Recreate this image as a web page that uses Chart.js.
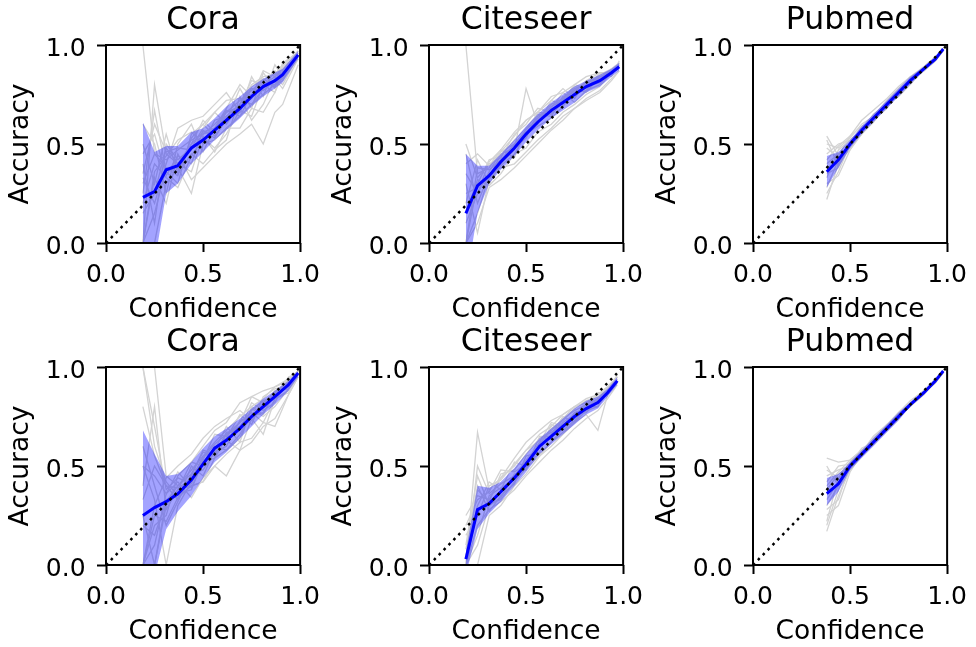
<!DOCTYPE html>
<html><head><meta charset="utf-8">
<script src="https://cdn.jsdelivr.net/npm/chart.js@4.4.0/dist/chart.umd.min.js"></script>
<style>
html,body{margin:0;padding:0;background:#fff;width:976px;height:647px;overflow:hidden;position:relative;}
canvas{position:absolute;}
</style></head><body>
<canvas id="p0" width="328" height="327" style="left:0px;top:0px"></canvas>
<canvas id="p1" width="328" height="327" style="left:323px;top:0px"></canvas>
<canvas id="p2" width="328" height="327" style="left:647px;top:0px"></canvas>
<canvas id="p3" width="328" height="327" style="left:0px;top:322px"></canvas>
<canvas id="p4" width="328" height="327" style="left:323px;top:322px"></canvas>
<canvas id="p5" width="328" height="327" style="left:647px;top:322px"></canvas>
<script>
// ---------- labels ----------
const panelTitles = ['Cora', 'Citeseer', 'Pubmed', 'Cora', 'Citeseer', 'Pubmed'];
const xLabel = 'Confidence';
const yLabel = 'Accuracy';
const tickValues = [0, 0.5, 1.0];
const diagonal = [0, 1];

// ---------- top row: Cora ----------
const coraTopX     = [0.19, 0.25, 0.31, 0.37, 0.44, 0.50, 0.56, 0.62, 0.69, 0.75, 0.81, 0.87, 0.91, 0.99];
const coraTopMean  = [0.23, 0.26, 0.37, 0.39, 0.48, 0.52, 0.57, 0.62, 0.68, 0.74, 0.79, 0.82, 0.85, 0.95];
const coraTopUpper = [0.61, 0.46, 0.49, 0.49, 0.56, 0.58, 0.63, 0.69, 0.74, 0.79, 0.83, 0.86, 0.88, 0.97];
const coraTopLower = [-0.2, -0.1, 0.25, 0.30, 0.40, 0.46, 0.52, 0.57, 0.63, 0.69, 0.74, 0.78, 0.81, 0.93];
const coraTopRuns = [
  [1.00, 0.45, 0.42, 0.47, 0.52, 0.55, 0.60, 0.66, 0.72, 0.77, 0.82, 0.86, 0.88, 0.96],
  [0.00, 0.80, 0.45, 0.40, 0.50, 0.56, 0.58, 0.64, 0.70, 0.80, 0.84, 0.85, 0.90, 0.97],
  [0.50, 0.30, 0.55, 0.35, 0.45, 0.40, 0.47, 0.52, 0.74, 0.62, 0.70, 0.83, 0.78, 0.93],
  [0.00, 0.00, 0.30, 0.38, 0.25, 0.50, 0.52, 0.58, 0.64, 0.70, 0.75, 0.80, 0.83, 0.94],
  [0.33, 0.20, 0.40, 0.58, 0.62, 0.64, 0.70, 0.76, 0.66, 0.84, 0.74, 0.90, 0.84, 0.96],
  [0.25, 0.67, 0.36, 0.30, 0.55, 0.60, 0.54, 0.62, 0.78, 0.68, 0.86, 0.78, 0.90, 0.93],
  [0.00, 0.33, 0.20, 0.45, 0.32, 0.38, 0.44, 0.50, 0.55, 0.60, 0.50, 0.66, 0.70, 0.90],
  [0.40, 0.10, 0.50, 0.42, 0.48, 0.58, 0.66, 0.60, 0.70, 0.82, 0.80, 0.76, 0.87, 0.97],
  [0.60, 0.50, 0.25, 0.50, 0.60, 0.46, 0.58, 0.68, 0.80, 0.74, 0.87, 0.84, 0.80, 0.94],
  [0.20, 0.40, 0.33, 0.28, 0.44, 0.53, 0.48, 0.55, 0.67, 0.64, 0.80, 0.80, 0.82, 0.95],
  [0.00, 0.36, 0.44, 0.52, 0.56, 0.50, 0.62, 0.64, 0.70, 0.78, 0.77, 0.82, 0.86, 0.96],
  [0.30, 0.45, 0.38, 0.36, 0.50, 0.62, 0.56, 0.66, 0.69, 0.73, 0.80, 0.84, 0.88, 0.95],
  [0.15, 0.25, 0.48, 0.40, 0.36, 0.54, 0.46, 0.58, 0.58, 0.68, 0.66, 0.76, 0.85, 0.94],
  [0.45, 0.55, 0.34, 0.44, 0.40, 0.57, 0.53, 0.63, 0.66, 0.79, 0.83, 0.79, 0.89, 0.97],
  [0.00, 0.15, 0.38, 0.34, 0.53, 0.60, 0.66, 0.72, 0.73, 0.70, 0.78, 0.87, 0.83, 0.93],
  [0.35, 0.60, 0.46, 0.48, 0.47, 0.55, 0.57, 0.67, 0.64, 0.75, 0.81, 0.81, 0.91, 0.96]
];

// ---------- top row: Citeseer ----------
const citeTopX     = [0.19, 0.25, 0.31, 0.37, 0.44, 0.50, 0.56, 0.63, 0.69, 0.75, 0.81, 0.88, 0.94, 0.98];
const citeTopMean  = [0.15, 0.29, 0.34, 0.41, 0.48, 0.55, 0.61, 0.67, 0.71, 0.75, 0.79, 0.82, 0.86, 0.89];
const citeTopUpper = [0.45, 0.39, 0.39, 0.45, 0.52, 0.59, 0.65, 0.71, 0.75, 0.79, 0.82, 0.85, 0.88, 0.91];
const citeTopLower = [-0.2, 0.15, 0.30, 0.37, 0.44, 0.51, 0.57, 0.63, 0.67, 0.71, 0.76, 0.79, 0.84, 0.87];
const citeTopRuns = [
  [1.00, 0.35, 0.38, 0.46, 0.50, 0.57, 0.63, 0.70, 0.73, 0.78, 0.80, 0.85, 0.87, 0.90],
  [0.50, 0.33, 0.40, 0.43, 0.55, 0.60, 0.68, 0.66, 0.74, 0.76, 0.82, 0.83, 0.88, 0.91],
  [0.00, 0.10, 0.28, 0.32, 0.38, 0.44, 0.50, 0.57, 0.62, 0.68, 0.73, 0.77, 0.83, 0.87],
  [0.20, 0.42, 0.30, 0.40, 0.47, 0.78, 0.60, 0.72, 0.70, 0.78, 0.76, 0.84, 0.86, 0.89],
  [0.10, 0.25, 0.36, 0.46, 0.54, 0.62, 0.66, 0.74, 0.76, 0.80, 0.84, 0.86, 0.86, 0.90],
  [0.30, 0.05, 0.32, 0.40, 0.49, 0.54, 0.64, 0.68, 0.76, 0.71, 0.77, 0.80, 0.87, 0.88],
  [0.00, 0.30, 0.42, 0.44, 0.52, 0.58, 0.62, 0.66, 0.72, 0.80, 0.78, 0.86, 0.84, 0.92],
  [0.45, 0.20, 0.35, 0.38, 0.40, 0.46, 0.52, 0.58, 0.64, 0.68, 0.72, 0.76, 0.82, 0.87],
  [0.00, 0.38, 0.37, 0.42, 0.50, 0.56, 0.62, 0.69, 0.72, 0.77, 0.81, 0.84, 0.86, 0.90],
  [0.25, 0.28, 0.33, 0.45, 0.48, 0.53, 0.66, 0.65, 0.71, 0.75, 0.79, 0.81, 0.87, 0.89],
  [0.40, 0.45, 0.39, 0.47, 0.56, 0.62, 0.66, 0.72, 0.78, 0.73, 0.82, 0.86, 0.85, 0.91],
  [0.00, 0.15, 0.34, 0.39, 0.45, 0.55, 0.59, 0.63, 0.69, 0.76, 0.77, 0.85, 0.88, 0.89],
  [0.15, 0.32, 0.29, 0.35, 0.45, 0.48, 0.56, 0.60, 0.66, 0.70, 0.75, 0.79, 0.86, 0.90],
  [0.35, 0.25, 0.41, 0.47, 0.43, 0.58, 0.65, 0.64, 0.73, 0.79, 0.78, 0.82, 0.87, 0.91]
];

// ---------- top row: Pubmed ----------
const pubTopX     = [0.38, 0.44, 0.50, 0.56, 0.62, 0.69, 0.75, 0.81, 0.88, 0.94, 0.98];
const pubTopMean  = [0.36, 0.42, 0.50, 0.57, 0.63, 0.70, 0.76, 0.82, 0.88, 0.93, 0.98];
const pubTopUpper = [0.44, 0.46, 0.52, 0.59, 0.65, 0.72, 0.78, 0.84, 0.89, 0.94, 0.985];
const pubTopLower = [0.28, 0.38, 0.48, 0.55, 0.61, 0.68, 0.74, 0.80, 0.87, 0.92, 0.975];
const pubTopRuns = [
  [0.54, 0.44, 0.54, 0.62, 0.67, 0.73, 0.79, 0.84, 0.89, 0.93, 0.98],
  [0.22, 0.40, 0.49, 0.56, 0.62, 0.69, 0.75, 0.81, 0.87, 0.92, 0.98],
  [0.50, 0.48, 0.53, 0.60, 0.64, 0.72, 0.78, 0.84, 0.88, 0.94, 0.98],
  [0.30, 0.34, 0.47, 0.55, 0.61, 0.70, 0.74, 0.80, 0.88, 0.93, 0.97],
  [0.45, 0.50, 0.52, 0.57, 0.63, 0.68, 0.77, 0.82, 0.87, 0.92, 0.98],
  [0.35, 0.38, 0.50, 0.59, 0.62, 0.71, 0.76, 0.83, 0.89, 0.94, 0.98],
  [0.40, 0.45, 0.48, 0.55, 0.64, 0.70, 0.75, 0.81, 0.88, 0.93, 0.98],
  [0.28, 0.42, 0.51, 0.58, 0.62, 0.69, 0.76, 0.82, 0.87, 0.93, 0.98],
  [0.48, 0.43, 0.50, 0.56, 0.63, 0.70, 0.75, 0.82, 0.88, 0.93, 0.98],
  [0.33, 0.47, 0.52, 0.57, 0.62, 0.71, 0.77, 0.81, 0.87, 0.92, 0.97],
  [0.52, 0.39, 0.49, 0.58, 0.64, 0.69, 0.76, 0.83, 0.89, 0.94, 0.98],
  [0.25, 0.36, 0.50, 0.56, 0.63, 0.70, 0.75, 0.82, 0.88, 0.93, 0.98],
  [0.42, 0.49, 0.54, 0.59, 0.62, 0.68, 0.77, 0.82, 0.87, 0.93, 0.98],
  [0.38, 0.41, 0.47, 0.57, 0.65, 0.70, 0.76, 0.81, 0.89, 0.94, 0.98]
];

// ---------- bottom row: Cora ----------
const coraBotX     = [0.19, 0.25, 0.31, 0.37, 0.44, 0.50, 0.56, 0.62, 0.69, 0.75, 0.81, 0.87, 0.94, 0.99];
const coraBotMean  = [0.25, 0.29, 0.32, 0.36, 0.43, 0.51, 0.59, 0.63, 0.69, 0.75, 0.80, 0.85, 0.91, 0.97];
const coraBotUpper = [0.68, 0.56, 0.45, 0.46, 0.52, 0.59, 0.65, 0.69, 0.74, 0.79, 0.84, 0.88, 0.93, 0.98];
const coraBotLower = [-0.2, -0.05, 0.18, 0.27, 0.35, 0.44, 0.52, 0.57, 0.64, 0.70, 0.76, 0.81, 0.88, 0.95];
const coraBotRuns = [
  [1.00, 1.00, 0.45, 0.40, 0.48, 0.55, 0.62, 0.68, 0.75, 0.80, 0.84, 0.90, 0.93, 0.98],
  [1.00, 0.60, 0.42, 0.35, 0.45, 0.58, 0.56, 0.66, 0.72, 0.85, 0.82, 0.86, 0.94, 0.97],
  [0.00, 0.00, 0.30, 0.38, 0.40, 0.42, 0.50, 0.45, 0.58, 0.62, 0.70, 0.74, 0.86, 0.95],
  [0.50, 0.33, 0.00, 0.30, 0.42, 0.52, 0.54, 0.64, 0.68, 0.74, 0.66, 0.84, 0.88, 0.97],
  [0.00, 0.20, 0.25, 0.45, 0.52, 0.60, 0.68, 0.72, 0.82, 0.85, 0.88, 0.90, 0.94, 0.98],
  [0.33, 0.50, 0.40, 0.33, 0.50, 0.45, 0.58, 0.70, 0.62, 0.80, 0.76, 0.88, 0.89, 0.96],
  [0.00, 0.10, 0.36, 0.42, 0.34, 0.44, 0.50, 0.56, 0.62, 0.64, 0.72, 0.70, 0.86, 0.95],
  [0.40, 0.80, 0.28, 0.38, 0.52, 0.50, 0.60, 0.58, 0.66, 0.76, 0.79, 0.87, 0.94, 0.98],
  [0.25, 0.00, 0.33, 0.36, 0.38, 0.53, 0.66, 0.65, 0.72, 0.77, 0.72, 0.84, 0.87, 0.96],
  [0.60, 0.40, 0.20, 0.32, 0.46, 0.48, 0.57, 0.63, 0.58, 0.74, 0.82, 0.86, 0.90, 0.97],
  [1.00, 0.70, 0.38, 0.44, 0.41, 0.54, 0.61, 0.66, 0.70, 0.78, 0.83, 0.85, 0.92, 0.97],
  [0.00, 0.30, 0.44, 0.50, 0.56, 0.64, 0.70, 0.74, 0.78, 0.73, 0.81, 0.88, 0.90, 0.98],
  [0.20, 0.15, 0.32, 0.40, 0.46, 0.57, 0.55, 0.67, 0.68, 0.82, 0.78, 0.82, 0.95, 0.97],
  [0.50, 0.45, 0.36, 0.47, 0.39, 0.52, 0.59, 0.64, 0.76, 0.71, 0.85, 0.89, 0.91, 0.96],
  [0.00, 0.25, 0.22, 0.34, 0.40, 0.42, 0.54, 0.58, 0.64, 0.79, 0.75, 0.80, 0.89, 0.98],
  [0.80, 0.55, 0.40, 0.39, 0.43, 0.55, 0.57, 0.60, 0.73, 0.75, 0.77, 0.86, 0.93, 0.97]
];

// ---------- bottom row: Citeseer ----------
const citeBotX     = [0.19, 0.25, 0.31, 0.37, 0.44, 0.50, 0.57, 0.63, 0.69, 0.75, 0.81, 0.87, 0.92, 0.97];
const citeBotMean  = [0.03, 0.28, 0.31, 0.37, 0.44, 0.51, 0.60, 0.65, 0.70, 0.75, 0.79, 0.82, 0.87, 0.93];
const citeBotUpper = [0.07, 0.40, 0.39, 0.42, 0.49, 0.56, 0.64, 0.69, 0.74, 0.79, 0.83, 0.85, 0.89, 0.95];
const citeBotLower = [-0.05, 0.18, 0.26, 0.32, 0.40, 0.47, 0.56, 0.61, 0.66, 0.71, 0.76, 0.79, 0.85, 0.91];
const citeBotRuns = [
  [0.00, 0.67, 0.38, 0.44, 0.50, 0.58, 0.63, 0.68, 0.74, 0.80, 0.82, 0.86, 0.90, 0.95],
  [0.25, 0.35, 0.33, 0.44, 0.54, 0.62, 0.68, 0.73, 0.76, 0.80, 0.84, 0.86, 0.90, 0.95],
  [0.00, 0.00, 0.25, 0.30, 0.40, 0.46, 0.55, 0.60, 0.66, 0.72, 0.76, 0.68, 0.86, 0.92],
  [0.05, 0.30, 0.42, 0.38, 0.52, 0.50, 0.62, 0.72, 0.70, 0.76, 0.80, 0.83, 0.87, 0.93],
  [0.00, 0.20, 0.28, 0.32, 0.38, 0.45, 0.52, 0.58, 0.63, 0.69, 0.74, 0.78, 0.84, 0.91],
  [0.10, 0.45, 0.30, 0.34, 0.46, 0.48, 0.60, 0.66, 0.75, 0.72, 0.80, 0.80, 0.88, 0.96],
  [0.00, 0.15, 0.35, 0.39, 0.43, 0.52, 0.56, 0.62, 0.69, 0.77, 0.79, 0.84, 0.86, 0.94],
  [0.03, 0.38, 0.32, 0.46, 0.48, 0.56, 0.64, 0.67, 0.71, 0.75, 0.81, 0.86, 0.89, 0.92],
  [0.00, 0.50, 0.36, 0.41, 0.45, 0.53, 0.61, 0.69, 0.73, 0.79, 0.83, 0.85, 0.89, 0.94],
  [0.15, 0.25, 0.40, 0.43, 0.51, 0.58, 0.66, 0.70, 0.76, 0.80, 0.82, 0.85, 0.88, 0.93],
  [0.00, 0.10, 0.30, 0.37, 0.44, 0.49, 0.65, 0.65, 0.72, 0.76, 0.77, 0.83, 0.90, 0.95],
  [0.08, 0.40, 0.27, 0.35, 0.41, 0.55, 0.57, 0.71, 0.68, 0.73, 0.80, 0.87, 0.87, 0.92],
  [0.20, 0.33, 0.37, 0.48, 0.47, 0.51, 0.62, 0.64, 0.74, 0.78, 0.81, 0.84, 0.88, 0.95],
  [0.00, 0.28, 0.31, 0.33, 0.42, 0.49, 0.55, 0.62, 0.67, 0.72, 0.78, 0.80, 0.87, 0.93]
];

// ---------- bottom row: Pubmed ----------
const pubBotX     = [0.38, 0.44, 0.50, 0.56, 0.62, 0.69, 0.75, 0.81, 0.88, 0.94, 0.98];
const pubBotMean  = [0.36, 0.41, 0.50, 0.56, 0.62, 0.69, 0.75, 0.81, 0.87, 0.93, 0.98];
const pubBotUpper = [0.44, 0.46, 0.52, 0.58, 0.64, 0.71, 0.77, 0.82, 0.88, 0.94, 0.985];
const pubBotLower = [0.30, 0.37, 0.48, 0.54, 0.60, 0.67, 0.73, 0.80, 0.86, 0.92, 0.975];
const pubBotRuns = [
  [0.54, 0.52, 0.53, 0.58, 0.63, 0.70, 0.76, 0.82, 0.88, 0.93, 0.98],
  [0.17, 0.35, 0.48, 0.55, 0.61, 0.68, 0.74, 0.81, 0.87, 0.92, 0.98],
  [0.48, 0.44, 0.52, 0.57, 0.65, 0.71, 0.77, 0.83, 0.88, 0.94, 0.98],
  [0.25, 0.30, 0.47, 0.56, 0.62, 0.69, 0.75, 0.80, 0.86, 0.93, 0.97],
  [0.42, 0.50, 0.51, 0.59, 0.62, 0.70, 0.76, 0.81, 0.87, 0.93, 0.98],
  [0.30, 0.40, 0.49, 0.55, 0.64, 0.68, 0.74, 0.82, 0.88, 0.94, 0.98],
  [0.38, 0.46, 0.50, 0.57, 0.63, 0.71, 0.75, 0.81, 0.87, 0.92, 0.98],
  [0.20, 0.38, 0.51, 0.56, 0.61, 0.69, 0.76, 0.82, 0.88, 0.93, 0.98],
  [0.45, 0.48, 0.50, 0.56, 0.62, 0.70, 0.75, 0.82, 0.87, 0.93, 0.98],
  [0.33, 0.42, 0.52, 0.58, 0.63, 0.69, 0.76, 0.81, 0.88, 0.93, 0.98],
  [0.50, 0.40, 0.49, 0.57, 0.64, 0.71, 0.74, 0.82, 0.87, 0.94, 0.98],
  [0.28, 0.33, 0.51, 0.55, 0.62, 0.68, 0.76, 0.81, 0.88, 0.92, 0.97],
  [0.40, 0.47, 0.53, 0.58, 0.61, 0.70, 0.77, 0.82, 0.87, 0.93, 0.98],
  [0.22, 0.44, 0.48, 0.56, 0.63, 0.69, 0.75, 0.80, 0.88, 0.94, 0.98]
];

// ---------- drawing ----------
const FONT = 'DejaVu Sans';
const frameAndTitle = {
  id: 'frameAndTitle',
  afterDatasetsDraw(chart) {
    const { ctx, chartArea: a } = chart;
    ctx.save();
    ctx.strokeStyle = '#000';
    ctx.lineWidth = 2;
    ctx.strokeRect(a.left, a.top, a.right - a.left, a.bottom - a.top);
    ctx.restore();
  },
  afterDraw(chart, args, opts) {
    const { ctx, chartArea: a } = chart;
    ctx.save();
    ctx.fillStyle = '#000';
    ctx.font = '31.5px "' + FONT + '"';
    ctx.textAlign = 'center';
    ctx.textBaseline = 'alphabetic';
    ctx.fillText(opts.text, (a.left + a.right) / 2, a.top - 15.7);
    ctx.restore();
  }
};

function pts(xs, ys) { return xs.map((x, i) => ({ x: x, y: ys[i] })); }

function makePanel(id, title, xs, mean, upper, lower, runs) {
  const datasets = [
    { data: pts(diagonal, diagonal), borderColor: '#000', borderWidth: 2.5, borderDash: [2.5, 4.5],
      pointRadius: 0, fill: false, clip: 0 },
    { data: pts(xs, mean), borderColor: '#0000ff', borderWidth: 3, pointRadius: 0, fill: false, clip: 0 },
    { data: pts(xs, upper), borderColor: 'rgba(0,0,0,0)', borderWidth: 0, backgroundColor: 'rgba(0,0,255,0.36)',
      pointRadius: 0, fill: '+1', clip: 0 },
    { data: pts(xs, lower), borderColor: 'rgba(0,0,0,0)', borderWidth: 0, pointRadius: 0, fill: false, clip: 0 }
  ];
  runs.forEach(r => datasets.push({ data: pts(xs, r), borderColor: '#d3d3d3', borderWidth: 1.3,
    pointRadius: 0, fill: false, clip: 0 }));

  const tickFont = { family: FONT, size: 25 };
  const labelFont = { family: FONT, size: 26.5 };
  new Chart(document.getElementById(id), {
    type: 'line',
    data: { datasets: datasets },
    options: {
      responsive: false, animation: false, events: [],
      layout: { padding: { left: 0, top: 45, right: 24, bottom: 0 } },
      plugins: {
        legend: { display: false }, tooltip: { enabled: false }, title: { display: false },
        frameAndTitle: { text: title }
      },
      scales: {
        x: {
          type: 'linear', min: 0, max: 1,
          afterBuildTicks: s => { s.ticks = tickValues.map(v => ({ value: v })); },
          ticks: { color: '#000', font: tickFont, padding: 8, maxRotation: 0, autoSkip: false,
                   callback: v => Number(v).toFixed(1) },
          grid: { display: true, drawOnChartArea: false, drawTicks: true, tickLength: 9, tickWidth: 2, tickColor: '#000' },
          border: { display: false },
          title: { display: true, text: xLabel, color: '#000', font: labelFont, padding: { top: 0, bottom: 0.7 } },
          afterFit: s => { s.height = 84; }
        },
        y: {
          type: 'linear', min: 0, max: 1,
          afterBuildTicks: s => { s.ticks = tickValues.map(v => ({ value: v })); },
          ticks: { color: '#000', font: tickFont, padding: 11.4, labelOffset: 4, autoSkip: false,
                   callback: v => Number(v).toFixed(1) },
          grid: { display: true, drawOnChartArea: false, drawTicks: true, tickLength: 9, tickWidth: 2, tickColor: '#000' },
          border: { display: false },
          title: { display: true, text: yLabel, color: '#000', font: labelFont, padding: { top: 5.5, bottom: 0 } },
          afterFit: s => { s.width = 106; }
        }
      }
    },
    plugins: [frameAndTitle]
  });
}

makePanel('p0', panelTitles[0], coraTopX, coraTopMean, coraTopUpper, coraTopLower, coraTopRuns);
makePanel('p1', panelTitles[1], citeTopX, citeTopMean, citeTopUpper, citeTopLower, citeTopRuns);
makePanel('p2', panelTitles[2], pubTopX, pubTopMean, pubTopUpper, pubTopLower, pubTopRuns);
makePanel('p3', panelTitles[3], coraBotX, coraBotMean, coraBotUpper, coraBotLower, coraBotRuns);
makePanel('p4', panelTitles[4], citeBotX, citeBotMean, citeBotUpper, citeBotLower, citeBotRuns);
makePanel('p5', panelTitles[5], pubBotX, pubBotMean, pubBotUpper, pubBotLower, pubBotRuns);
</script>
</body></html>
